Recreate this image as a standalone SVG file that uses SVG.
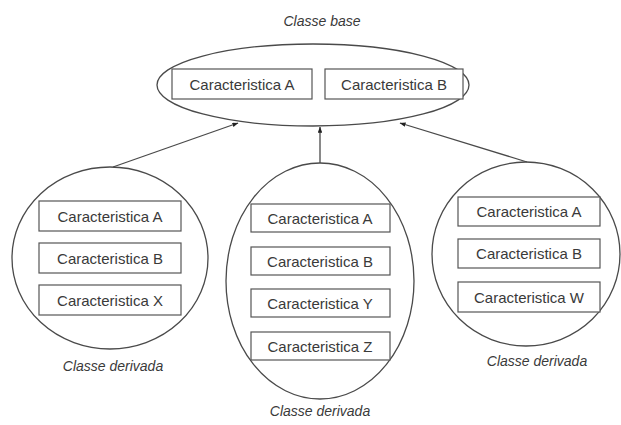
<svg xmlns="http://www.w3.org/2000/svg" width="621" height="425" viewBox="0 0 621 425">
  <defs>
    <style>
      .shape { fill: none; stroke: #4a4a4a; stroke-width: 1.3; }
      .box { fill: #ffffff; stroke: #555555; stroke-width: 1.2; }
      .item { font-family: "Liberation Sans", Arial, sans-serif; font-size: 15px; fill: #3a3a3a; text-anchor: middle; }
      .caption { font-family: "Liberation Sans", Arial, sans-serif; font-size: 14px; font-style: italic; fill: #3a3a3a; text-anchor: middle; }
      .link { fill: none; stroke: #4a4a4a; stroke-width: 1.3; }
    </style>
    <marker id="tip" viewBox="0 0 8 6" refX="7.5" refY="3" markerWidth="6" markerHeight="4.5" orient="auto" markerUnits="userSpaceOnUse">
      <path d="M0,0 L8,3 L0,6 Z" fill="#222222"/>
    </marker>
  </defs>
  <rect width="621" height="425" fill="#ffffff"/>

  <!-- Base class -->
  <g id="base">
    <text class="caption" x="322" y="26">Classe base</text>
    <ellipse class="shape" cx="313" cy="85" rx="156" ry="41"/>
    <rect class="box" x="172" y="69" width="140" height="30"/>
    <text class="item" x="242" y="89.5">Caracteristica A</text>
    <rect class="box" x="325" y="69" width="138" height="30"/>
    <text class="item" x="394" y="89.5">Caracteristica B</text>
  </g>

  <!-- Derived class (left) -->
  <g id="derived-left">
    <ellipse class="shape" cx="110" cy="258" rx="98" ry="91"/>
    <rect class="box" x="39" y="201" width="142" height="30"/>
    <text class="item" x="110" y="221.5">Caracteristica A</text>
    <rect class="box" x="39" y="243" width="142" height="30"/>
    <text class="item" x="110" y="263.5">Caracteristica B</text>
    <rect class="box" x="39" y="285" width="142" height="30"/>
    <text class="item" x="110" y="305.5">Caracteristica X</text>
    <text class="caption" x="113" y="371">Classe derivada</text>
  </g>

  <!-- Derived class (middle) -->
  <g id="derived-middle">
    <ellipse class="shape" cx="320" cy="281" rx="94" ry="118"/>
    <rect class="box" x="251" y="204" width="139" height="28"/>
    <text class="item" x="320" y="223.5">Caracteristica A</text>
    <rect class="box" x="251" y="247" width="139" height="28"/>
    <text class="item" x="320" y="266.5">Caracteristica B</text>
    <rect class="box" x="251" y="289" width="139" height="28"/>
    <text class="item" x="320" y="308.5">Caracteristica Y</text>
    <rect class="box" x="251" y="332" width="139" height="28"/>
    <text class="item" x="320" y="351.5">Caracteristica Z</text>
    <text class="caption" x="320" y="416">Classe derivada</text>
  </g>

  <!-- Derived class (right) -->
  <g id="derived-right">
    <ellipse class="shape" cx="526" cy="254" rx="94" ry="92"/>
    <rect class="box" x="458" y="197" width="142" height="29"/>
    <text class="item" x="529" y="216.5">Caracteristica A</text>
    <rect class="box" x="458" y="239" width="142" height="29"/>
    <text class="item" x="529" y="258.5">Caracteristica B</text>
    <rect class="box" x="458" y="282" width="142" height="30"/>
    <text class="item" x="529" y="302.5">Caracteristica W</text>
    <text class="caption" x="537" y="366">Classe derivada</text>
  </g>

  <!-- Inheritance links -->
  <g id="links">
    <line class="link" x1="113" y1="167" x2="238" y2="123" marker-end="url(#tip)"/>
    <line class="link" x1="320" y1="163" x2="320" y2="127" marker-end="url(#tip)"/>
    <line class="link" x1="527" y1="162" x2="400" y2="123" marker-end="url(#tip)"/>
  </g>
</svg>
